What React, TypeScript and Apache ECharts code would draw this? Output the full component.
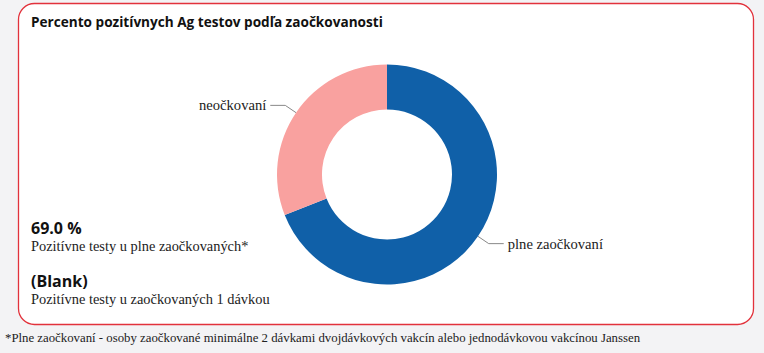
import React, { useEffect, useRef } from "react";
import * as echarts from "echarts";

const titleText = "Percento pozitívnych Ag testov podľa zaočkovanosti";
const categories = ["plne zaočkovaní", "neočkovaní"];
const values = [69, 31];
const colors = ["#1060a8", "#f9a19f"];
const kpiValues = ["69.0 %", "(Blank)"];
const kpiLabels = ["Pozitívne testy u plne zaočkovaných*", "Pozitívne testy u zaočkovaných 1 dávkou"];
const footnote = "*Plne zaočkovaní - osoby zaočkované minimálne 2 dávkami dvojdávkových vakcín alebo jednodávkovou vakcínou Janssen";

const SERIF = "'Liberation Serif', 'Times New Roman', serif";
const SANS = "'Open Sans', 'Noto Sans', sans-serif";

export default function App() {
  const ref = useRef<HTMLDivElement>(null);
  useEffect(() => {
    document.body.style.margin = "0";
    document.body.style.background = "#f3f3f5";
    if (!ref.current) return;
    const chart = echarts.init(ref.current, undefined, { renderer: "svg" });
    chart.setOption({
      animation: false,
      backgroundColor: "#f3f3f5",
      title: {
        text: titleText,
        left: 26,
        top: 9,
        textStyle: { fontFamily: SANS, fontSize: 13.6, fontWeight: "bold", color: "#111" },
      },
      graphic: [
        {
          type: "rect",
          z: -10,
          shape: { x: 18.5, y: 3.5, width: 735, height: 321, r: 16 },
          style: { fill: "#ffffff", stroke: "#e2323c", lineWidth: 1.3 },
        },
        {
          type: "text",
          x: 31,
          y: 228,
          style: { text: kpiValues[0], font: `bold 16px ${SANS}`, fill: "#111", verticalAlign: "middle" },
        },
        {
          type: "text",
          x: 31,
          y: 246,
          style: { text: kpiLabels[0], font: `14.4px ${SERIF}`, fill: "#222", verticalAlign: "middle" },
        },
        {
          type: "text",
          x: 31,
          y: 281,
          style: { text: kpiValues[1], font: `bold 16px ${SANS}`, fill: "#111", verticalAlign: "middle" },
        },
        {
          type: "text",
          x: 31,
          y: 299,
          style: { text: kpiLabels[1], font: `14.4px ${SERIF}`, fill: "#222", verticalAlign: "middle" },
        },
        {
          type: "text",
          x: 5,
          y: 338,
          style: { text: footnote, font: `12.8px ${SERIF}`, fill: "#222", verticalAlign: "middle" },
        },
      ],
      series: [
        {
          type: "pie",
          center: [387, 174.5],
          radius: [65, 110],
          startAngle: 90,
          clockwise: true,
          avoidLabelOverlap: false,
          label: {
            show: true,
            position: "outside",
            formatter: "{b}",
            fontFamily: SERIF,
            fontSize: 14.6,
            color: "#222",
            distanceToLabelLine: 4,
          },
          labelLine: {
            show: true,
            length: 13,
            length2: 15,
            lineStyle: { color: "#888", width: 1 },
          },
          emphasis: { disabled: true },
          data: categories.map((c, i) => ({ name: c, value: values[i], itemStyle: { color: colors[i] } })),
        },
      ],
    });
    return () => chart.dispose();
  }, []);
  return <div ref={ref} style={{ width: 764, height: 353 }} />;
}
